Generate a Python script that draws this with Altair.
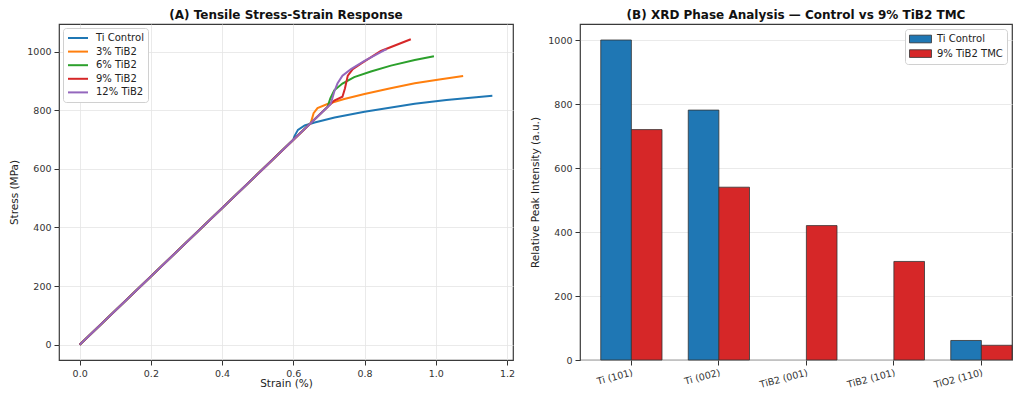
import altair as alt
import pandas as pd

# ---------------- Panel A data: stress-strain curves ----------------
series_names = ["Ti Control", "3% TiB2", "6% TiB2", "9% TiB2", "12% TiB2"]
series_colors = ["#1f77b4", "#ff7f0e", "#2ca02c", "#d62728", "#9467bd"]

strain_ctrl = [0.0, 0.600, 0.603, 0.613, 0.632, 0.660, 0.716, 0.800, 0.941, 1.030, 1.159]
stress_ctrl = [0, 699, 711, 733, 748, 758, 775, 795, 822, 835, 849]

strain_3 = [0.0, 0.649, 0.657, 0.668, 0.696, 0.743, 0.800, 0.870, 0.941, 1.010, 1.077]
stress_3 = [0, 756, 790, 807, 821, 838, 855, 874, 892, 905, 917]

strain_6 = [0.0, 0.696, 0.704, 0.715, 0.738, 0.771, 0.818, 0.874, 0.941, 0.995]
stress_6 = [0, 811, 840, 868, 891, 913, 932, 952, 971, 984]

strain_9 = [0.0, 0.715, 0.738, 0.745, 0.753, 0.767, 0.790, 0.846, 0.930]
stress_9 = [0, 833, 846, 874, 918, 940, 959, 1002, 1042]

strain_12 = [0.0, 0.705, 0.715, 0.724, 0.738, 0.762, 0.800, 0.856, 0.862]
stress_12 = [0, 821, 863, 891, 918, 940, 968, 1005, 1008]

strain_ticks = [0.0, 0.2, 0.4, 0.6, 0.8, 1.0, 1.2]
stress_ticks = [0, 200, 400, 600, 800, 1000]

# ---------------- Panel B data: XRD peaks ----------------
phases = ["Ti (101)", "Ti (002)", "TiB2 (001)", "TiB2 (101)", "TiO2 (110)"]
samples = ["Ti Control", "9% TiB2 TMC"]
sample_colors = ["#1f77b4", "#d62728"]
intensity_control = [1000, 781, 0, 0, 61]
intensity_tmc9 = [720, 540, 420, 308, 46]
intensity_ticks = [0, 200, 400, 600, 800, 1000]

# ---------------- build tables ----------------
rows = []
for name, xs, ys in zip(
    series_names,
    [strain_ctrl, strain_3, strain_6, strain_9, strain_12],
    [stress_ctrl, stress_3, stress_6, stress_9, stress_12],
):
    for k, (sx, sy) in enumerate(zip(xs, ys)):
        rows.append({"series": name, "strain": sx, "stress": sy, "k": k})
df_curves = pd.DataFrame(rows)

brows = []
for p, c, t in zip(phases, intensity_control, intensity_tmc9):
    brows.append({"phase": p, "sample": samples[0], "intensity": c})
    brows.append({"phase": p, "sample": samples[1], "intensity": t})
df_bars = pd.DataFrame(brows)

FONT = "DejaVu Sans"
line_sym = "M-1,0H3"
rect_sym = "M-1,-0.7H3V0.7H-1Z"

PLOT_H = 336

left = (
    alt.Chart(df_curves)
    .mark_line(strokeWidth=2, interpolate="linear")
    .encode(
        x=alt.X(
            "strain:Q",
            scale=alt.Scale(domain=[-0.058, 1.217], nice=False, zero=False),
            axis=alt.Axis(values=strain_ticks, format=".1f", title="Strain (%)",
                          titlePadding=1),
        ),
        y=alt.Y(
            "stress:Q",
            scale=alt.Scale(domain=[-52, 1094], nice=False, zero=False),
            axis=alt.Axis(values=stress_ticks, format="d", title="Stress (MPa)",
                          titlePadding=7),
        ),
        color=alt.Color(
            "series:N",
            sort=series_names,
            scale=alt.Scale(domain=series_names, range=series_colors),
            legend=alt.Legend(
                title=None,
                orient="top-left",
                offset=4,
                padding=4,
                rowPadding=2.6,
                symbolType=line_sym,
                symbolSize=100,
                symbolStrokeWidth=2,
                labelOffset=17,
                labelFontSize=10,
                fillColor="white",
                strokeColor="#d0d0d0",
                cornerRadius=3,
            ),
        ),
        order=alt.Order("k:Q"),
    )
    .properties(
        width=454,
        height=PLOT_H,
        title=alt.TitleParams("(A) Tensile Stress-Strain Response", offset=2),
    )
)

right = (
    alt.Chart(df_bars)
    .transform_filter("datum.intensity > 0")
    .mark_bar(stroke="#333333", strokeWidth=0.8)
    .encode(
        x=alt.X(
            "phase:N",
            sort=phases,
            scale=alt.Scale(paddingInner=0.3, paddingOuter=0.1186, align=1),
            axis=alt.Axis(title=None, labelAngle=345, labelAlign="right",
                          labelBaseline="top", grid=False, labelPadding=2),
        ),
        xOffset=alt.XOffset(
            "sample:N", sort=samples, scale=alt.Scale(paddingInner=0, paddingOuter=0)
        ),
        y=alt.Y(
            "intensity:Q",
            scale=alt.Scale(domain=[0, 1050], nice=False),
            axis=alt.Axis(values=intensity_ticks, format="d",
                          title="Relative Peak Intensity (a.u.)", titlePadding=7),
        ),
        color=alt.Color(
            "sample:N",
            sort=samples,
            scale=alt.Scale(domain=samples, range=sample_colors),
            legend=alt.Legend(
                title=None,
                orient="top-right",
                offset=5,
                padding=4,
                rowPadding=2.6,
                symbolType=rect_sym,
                symbolSize=121,
                symbolStrokeColor="#333333",
                symbolStrokeWidth=0.8,
                labelOffset=16,
                labelFontSize=10,
                fillColor="white",
                strokeColor="#d0d0d0",
                cornerRadius=3,
            ),
        ),
    )
    .properties(
        width=432,
        height=PLOT_H,
        title=alt.TitleParams("(B) XRD Phase Analysis \u2014 Control vs 9% TiB2 TMC", offset=2),
    )
)

chart = (
    alt.hconcat(left, right, spacing=14)
    .resolve_scale(color="independent")
    .properties(padding={"left": 1, "top": 0, "right": 0, "bottom": 0})
    .configure(font=FONT)
    .configure_view(stroke="#3a3a3a", strokeWidth=1.2)
    .configure_title(font=FONT, fontSize=12, fontWeight="bold", color="#111111", anchor="middle")
    .configure_axis(
        labelFont=FONT,
        titleFont=FONT,
        labelFontSize=9.5,
        titleFontSize=10.5,
        titleFontWeight="normal",
        labelColor="#333333",
        titleColor="#222222",
        tickColor="#333333",
        tickSize=5,
        tickWidth=1,
        labelPadding=3,
        domain=False,
        grid=True,
        gridColor="#e5e5e5",
        gridWidth=0.8,
    )
    .configure_legend(labelFont=FONT, labelColor="#222222")
)

chart.save("out.html", embed_options={"renderer": "svg", "actions": False})
